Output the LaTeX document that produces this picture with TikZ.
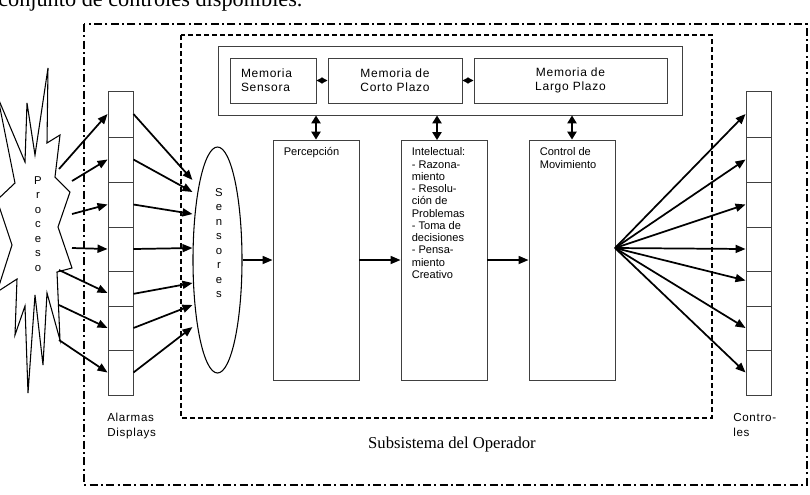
\documentclass[tikz,border=0pt]{standalone}
\usepackage{fontspec}
\setmainfont{Liberation Serif}
\setsansfont{Liberation Sans}
\newfontfamily\widesans[LetterSpace=6]{Liberation Sans}
\usepackage{tikz}
\usetikzlibrary{arrows.meta,shapes.geometric}

\begin{document}
\begin{tikzpicture}[x=0.75pt,y=-0.75pt,
  font=\sffamily\fontsize{8.3}{9.2}\selectfont,
  bx/.style={draw=black!75,line width=0.7pt,inner sep=0pt},
  mem/.style={bx,font=\widesans\fontsize{9}{10.5}\selectfont,align=center,
              minimum height=33.75pt},
  proc/.style={bx,minimum width=64.5pt,minimum height=180pt},
  cell/.style={bx,minimum width=18.75pt},
  txt/.style={anchor=north west,inner sep=0pt,align=left},
  vert/.style={font=\widesans\fontsize{8.5}{10.9}\selectfont,align=center,inner sep=0pt},
  lbl/.style={anchor=north west,inner sep=0pt,align=left,
              font=\widesans\fontsize{8.7}{11.25}\selectfont},
  a/.style={-{Triangle[length=7.5pt,width=6pt]},line width=1.3pt},
  aa/.style={{Triangle[length=6pt,width=7pt]}-{Triangle[length=6pt,width=7pt]},line width=1.2pt},
  sa/.style={{Triangle[length=4.5pt,width=4.5pt]}-{Triangle[length=4.5pt,width=4.5pt]},line width=0.9pt}
]
\useasboundingbox (0,0) rectangle (810,494);

% text of the page above
\node[anchor=base west,inner sep=0pt,font=\rmfamily\fontsize{16.7}{18}\selectfont]
  (prev) at (-2,6) {conjunto de controles disponibles.};

% frames
\draw[line width=1.5pt,dash pattern=on 6pt off 2.5pt on 1.5pt off 2.5pt]
  (84,24) rectangle (807,485);
\draw[line width=1.3pt,dash pattern=on 3.8pt off 2.2pt]
  (181,35) rectangle (712,418);
\node[font=\rmfamily\fontsize{12.5}{14}\selectfont] (opr) at (452,444)
  {Subsistema del Operador};

% proceso
\draw[line width=0.8pt] (-2,98) -- (25,162) -- (27,103) -- (35,155) -- (48,68)
  -- (47,143) -- (60,135) -- (55,177) -- (70,192) -- (58,227) -- (72,268)
  -- (57,272) -- (60,340) -- (47,293) -- (43,365) -- (35,295) -- (28,393)
  -- (25,306) -- (15,335) -- (17,279) -- (-3,292) -- (12,245) -- (-3,200)
  -- (15,183) -- cycle;
\node[vert] (proctxt) at (38,224) {P\\r\\o\\c\\e\\s\\o};

% alarmas / displays
\node[cell,minimum height=34.5pt] (a1) at (120.5,114) {};
\node[cell,minimum height=33.75pt] (a2) at (120.5,159.5) {};
\node[cell,minimum height=33.75pt] (a3) at (120.5,204.5) {};
\node[cell,minimum height=33pt] (a4) at (120.5,249) {};
\node[cell,minimum height=26.25pt] (a5) at (120.5,288.5) {};
\node[cell,minimum height=33pt] (a6) at (120.5,328) {};
\node[cell,minimum height=33.75pt] (a7) at (120.5,372.5) {};
\node[lbl] (alarmlbl) at (107,413) {Alarmas\\Displays};

% controles
\node[cell,minimum height=34.5pt] (k1) at (758.5,114) {};
\node[cell,minimum height=33.75pt] (k2) at (758.5,159.5) {};
\node[cell,minimum height=33.75pt] (k3) at (758.5,204.5) {};
\node[cell,minimum height=33pt] (k4) at (758.5,249) {};
\node[cell,minimum height=26.25pt] (k5) at (758.5,288.5) {};
\node[cell,minimum height=33pt] (k6) at (758.5,328) {};
\node[cell,minimum height=33.75pt] (k7) at (758.5,372.5) {};
\node[lbl] (ctrllbl) at (733,413) {Contro-\\les};

% sensores
\node[draw,ellipse,line width=0.8pt,inner sep=0pt,minimum width=36.75pt,
  minimum height=169.5pt] (sens) at (217.5,260) {};
\node[vert] (senstxt) at (219,243) {S\\e\\n\\s\\o\\r\\e\\s};

% memorias
\node[bx,minimum width=348pt,minimum height=51.75pt] (memc) at (450,80.5) {};
\node[mem,text width=48pt,inner xsep=8.25pt,align=left] (msen) at (273,80.5)
  {Memoria\\Sensora};
\node[mem,minimum width=100.5pt] (mcor) at (395,80.5) {Memoria de\\Corto Plazo};
\node[mem,minimum width=144.75pt] (mlar) at (570.5,80.5) {Memoria de\\Largo Plazo};

% procesos del operador
\node[proc] (perc) at (316,260) {};
\node[proc] (intel) at (444,260) {};
\node[proc] (ctrl) at (572,260) {};
\node[txt] (perctxt) at ([xshift=8.25pt,yshift=-6pt]perc.north west) {Percepción};
\node[txt] (inteltxt) at ([xshift=8.25pt,yshift=-6pt]intel.north west)
  {Intelectual:\\- Razona-\\miento\\- Resolu-\\ción de\\Problemas\\- Toma de\\%
   decisiones\\- Pensa-\\miento\\Creativo};
\node[txt] (ctrltxt) at ([xshift=8.25pt,yshift=-6pt]ctrl.north west)
  {Control de\\Movimiento};

% conexiones de memoria
\draw[sa] (msen) -- (mcor);
\draw[sa] (mcor) -- (mlar);
\coordinate (ia) at (437,140);
\draw[aa] (memc.south -| perc.north) -- (perc.north);
\draw[aa] (memc.south -| ia) -- (ia);
\draw[aa] (memc.south -| ctrl.north) -- (ctrl.north);

% flujo principal
\draw[a] (sens) -- (perc);
\draw[a] (perc) -- (intel);
\draw[a] (intel) -- (ctrl);

% proceso -> alarmas
\coordinate (p1) at (59,169);
\coordinate (p2) at (72,181);
\coordinate (p3) at (72,214);
\coordinate (p4) at (72,248);
\coordinate (p5) at (59,270);
\coordinate (p6) at (59,305);
\coordinate (p7) at (59,340);
\draw[a] (p1) -- (a1.west);
\draw[a] (p2) -- (a2.west);
\draw[a] (p3) -- (a3.west);
\draw[a] (p4) -- (a4.west);
\draw[a] (p5) -- ([yshift=-3.4pt]a5.west);
\draw[a] (p6) -- (a6.west);
\draw[a] (p7) -- (a7.west);

% alarmas -> sensores
\draw[a] (a1.east) -- ([yshift=60pt]sens.west);
\draw[a] (a2.east) -- ([yshift=51pt]sens.west);
\draw[a] (a3.east) -- ([yshift=34.5pt]sens.west);
\draw[a] (a4.east) -- ([yshift=9pt]sens.west);
\draw[a] ([yshift=-4pt]a5.east) -- ([yshift=-17.25pt]sens.west);
\draw[a] (a6.east) -- ([yshift=-33.75pt]sens.west);
\draw[a] (a7.east) -- ([yshift=-50.25pt]sens.west);

% control de movimiento -> controles
\coordinate (fan) at (615,248);
\draw[a] (fan) -- (k1.west);
\draw[a] (fan) -- (k2.west);
\draw[a] (fan) -- (k3.west);
\draw[a] (fan) -- (k4.west);
\draw[a] (fan) -- ([yshift=6pt]k5.west);
\draw[a] (fan) -- (k6.west);
\draw[a] (fan) -- (k7.west);
\end{tikzpicture}
\end{document}
